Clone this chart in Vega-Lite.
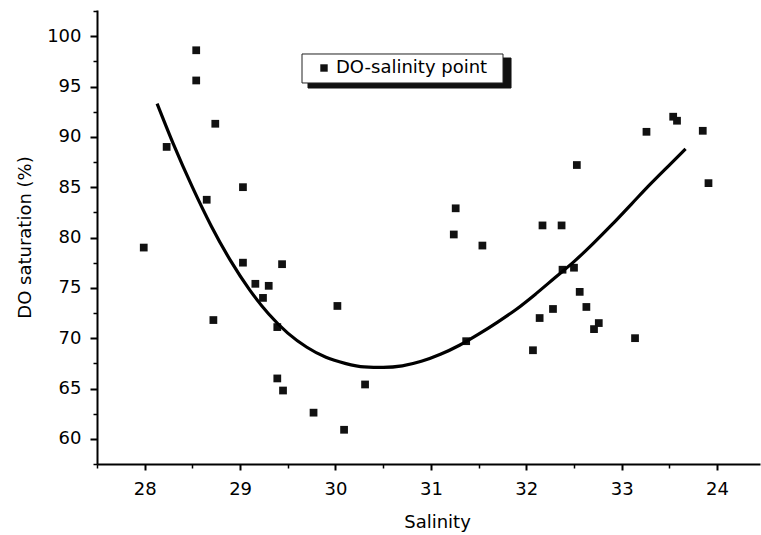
{
  "$schema": "https://vega.github.io/schema/vega-lite/v6.json",
  "width": 663,
  "height": 454,
  "autosize": {"type": "none"},
  "padding": {"left": 97, "top": 10, "right": 1, "bottom": 71},
  "background": "#ffffff",
  "config": {
    "view": {"stroke": null},
    "font": "DejaVu Sans",
    "axis": {"grid": false, "domainColor": "#000", "tickColor": "#000", "labelColor": "#000", "titleColor": "#000", "labelFont": "DejaVu Sans", "titleFont": "DejaVu Sans", "labelFontSize": 18, "titleFontSize": 18, "titleFontWeight": "normal"}
  },
  "datasets": {
    "points": [
      {"salinity": 27.99, "do": 79.0, "series": "DO-salinity point"},
      {"salinity": 28.23, "do": 89.0, "series": "DO-salinity point"},
      {"salinity": 28.54, "do": 98.6, "series": "DO-salinity point"},
      {"salinity": 28.54, "do": 95.6, "series": "DO-salinity point"},
      {"salinity": 28.74, "do": 91.3, "series": "DO-salinity point"},
      {"salinity": 28.65, "do": 83.75, "series": "DO-salinity point"},
      {"salinity": 29.03, "do": 85.0, "series": "DO-salinity point"},
      {"salinity": 29.03, "do": 77.5, "series": "DO-salinity point"},
      {"salinity": 29.44, "do": 77.35, "series": "DO-salinity point"},
      {"salinity": 29.16, "do": 75.4, "series": "DO-salinity point"},
      {"salinity": 29.30, "do": 75.2, "series": "DO-salinity point"},
      {"salinity": 29.24, "do": 74.0, "series": "DO-salinity point"},
      {"salinity": 28.72, "do": 71.8, "series": "DO-salinity point"},
      {"salinity": 29.39, "do": 71.1, "series": "DO-salinity point"},
      {"salinity": 30.02, "do": 73.2, "series": "DO-salinity point"},
      {"salinity": 29.39, "do": 66.0, "series": "DO-salinity point"},
      {"salinity": 29.45, "do": 64.8, "series": "DO-salinity point"},
      {"salinity": 29.77, "do": 62.6, "series": "DO-salinity point"},
      {"salinity": 30.09, "do": 60.9, "series": "DO-salinity point"},
      {"salinity": 30.31, "do": 65.4, "series": "DO-salinity point"},
      {"salinity": 31.26, "do": 82.9, "series": "DO-salinity point"},
      {"salinity": 31.24, "do": 80.3, "series": "DO-salinity point"},
      {"salinity": 31.54, "do": 79.2, "series": "DO-salinity point"},
      {"salinity": 32.53, "do": 87.2, "series": "DO-salinity point"},
      {"salinity": 33.26, "do": 90.5, "series": "DO-salinity point"},
      {"salinity": 33.54, "do": 92.0, "series": "DO-salinity point"},
      {"salinity": 33.58, "do": 91.6, "series": "DO-salinity point"},
      {"salinity": 33.85, "do": 90.6, "series": "DO-salinity point"},
      {"salinity": 33.91, "do": 85.4, "series": "DO-salinity point"},
      {"salinity": 32.17, "do": 81.2, "series": "DO-salinity point"},
      {"salinity": 32.37, "do": 81.2, "series": "DO-salinity point"},
      {"salinity": 32.38, "do": 76.8, "series": "DO-salinity point"},
      {"salinity": 32.50, "do": 77.0, "series": "DO-salinity point"},
      {"salinity": 31.37, "do": 69.7, "series": "DO-salinity point"},
      {"salinity": 32.56, "do": 74.6, "series": "DO-salinity point"},
      {"salinity": 32.63, "do": 73.1, "series": "DO-salinity point"},
      {"salinity": 32.28, "do": 72.9, "series": "DO-salinity point"},
      {"salinity": 32.14, "do": 72.0, "series": "DO-salinity point"},
      {"salinity": 32.76, "do": 71.5, "series": "DO-salinity point"},
      {"salinity": 32.71, "do": 70.9, "series": "DO-salinity point"},
      {"salinity": 32.07, "do": 68.8, "series": "DO-salinity point"},
      {"salinity": 33.14, "do": 70.0, "series": "DO-salinity point"}
    ],
    "curve": [
      {"salinity": 28.13, "do": 93.3},
      {"salinity": 28.30, "do": 89.3},
      {"salinity": 28.50, "do": 85.0},
      {"salinity": 28.70, "do": 81.1},
      {"salinity": 28.90, "do": 77.7},
      {"salinity": 29.10, "do": 74.8},
      {"salinity": 29.30, "do": 72.4},
      {"salinity": 29.50, "do": 70.5},
      {"salinity": 29.70, "do": 69.1},
      {"salinity": 29.90, "do": 68.1},
      {"salinity": 30.10, "do": 67.5},
      {"salinity": 30.30, "do": 67.15},
      {"salinity": 30.50, "do": 67.1},
      {"salinity": 30.70, "do": 67.25},
      {"salinity": 30.90, "do": 67.7},
      {"salinity": 31.10, "do": 68.4},
      {"salinity": 31.30, "do": 69.3},
      {"salinity": 31.50, "do": 70.4},
      {"salinity": 31.70, "do": 71.6},
      {"salinity": 31.90, "do": 72.9},
      {"salinity": 32.10, "do": 74.4},
      {"salinity": 32.30, "do": 76.0},
      {"salinity": 32.50, "do": 77.6},
      {"salinity": 32.70, "do": 79.4},
      {"salinity": 32.90, "do": 81.3},
      {"salinity": 33.10, "do": 83.3},
      {"salinity": 33.30, "do": 85.3},
      {"salinity": 33.50, "do": 87.2},
      {"salinity": 33.67, "do": 88.8}
    ],
    "box": [
      {"x1": 29.712, "x2": 31.84, "y1": 97.83, "y2": 94.85, "part": "shadow"},
      {"x1": 29.649, "x2": 31.756, "y1": 98.23, "y2": 95.35, "part": "box"}
    ]
  },
  "layer": [
    {
      "data": {"name": "points"},
      "mark": {"type": "point", "shape": "square", "filled": true, "size": 60, "opacity": 1},
      "encoding": {
        "x": {"field": "salinity", "type": "quantitative", "title": "Salinity",
          "scale": {"domain": [27.5, 34.45], "nice": false, "zero": false},
          "axis": {"orient": "bottom", "values": [28, 29, 30, 31, 32, 33, 34], "labelExpr": "datum.value == 34 ? '24' : datum.label", "domainWidth": 2, "tickWidth": 2, "tickSize": 6, "labelPadding": 10, "titlePadding": 15, "titleX": 340, "titleAnchor": null}},
        "y": {"field": "do", "type": "quantitative", "title": "DO saturation (%)",
          "scale": {"domain": [57.5, 102.6], "nice": false, "zero": false},
          "axis": {"orient": "left", "values": [60, 65, 70, 75, 80, 85, 90, 95, 100], "domainWidth": 2, "tickWidth": 2, "tickSize": 7, "labelPadding": 9, "titlePadding": 12}},
        "color": {"field": "series", "type": "nominal", "scale": {"domain": ["DO-salinity point"], "range": ["#111111"]},
          "legend": {"orient": "none", "legendX": 218, "legendY": 49, "title": null, "symbolType": "square", "symbolSize": 55, "symbolStrokeWidth": 0, "labelFontSize": 18, "labelFont": "DejaVu Sans", "labelColor": "#000", "padding": 0, "labelOffset": 3}}
      }
    },
    {
      "data": {"name": "box"},
      "mark": {"type": "rect", "strokeWidth": 1},
      "encoding": {
        "x": {"field": "x1", "type": "quantitative", "scale": {"domain": [27.5, 34.45], "nice": false, "zero": false}, "axis": null},
        "x2": {"field": "x2"},
        "y": {"field": "y1", "type": "quantitative", "scale": {"domain": [57.5, 102.6], "nice": false, "zero": false}, "axis": null},
        "y2": {"field": "y2"},
        "fill": {"field": "part", "type": "nominal", "scale": {"domain": ["shadow", "box"], "range": ["#111111", "#ffffff"]}, "legend": null},
        "stroke": {"field": "part", "type": "nominal", "scale": {"domain": ["shadow", "box"], "range": ["#111111", "#222222"]}, "legend": null},
        "order": {"field": "part", "sort": "descending"}
      }
    },
    {
      "data": {"name": "curve"},
      "mark": {"type": "line", "color": "#000", "strokeWidth": 3.2, "interpolate": "monotone"},
      "encoding": {
        "x": {"field": "salinity", "type": "quantitative", "scale": {"domain": [27.5, 34.45], "nice": false, "zero": false},
          "axis": {"orient": "bottom", "values": [27.5, 28.5, 29.5, 30.5, 31.5, 32.5, 33.5], "labels": false, "domain": false, "tickWidth": 1.5, "tickSize": 4, "title": null}},
        "y": {"field": "do", "type": "quantitative", "scale": {"domain": [57.5, 102.6], "nice": false, "zero": false},
          "axis": {"orient": "left", "values": [57.5, 62.5, 67.5, 72.5, 77.5, 82.5, 87.5, 92.5, 97.5, 102.5], "labels": false, "domain": false, "tickWidth": 1.5, "tickSize": 4, "title": null}}
      }
    }
  ],
  "resolve": {"axis": {"x": "independent", "y": "independent"}}
}
